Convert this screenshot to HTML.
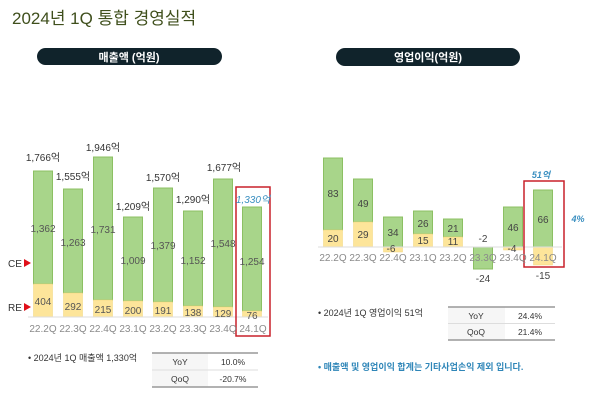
<!DOCTYPE html><html><head><meta charset="utf-8"><style>body{margin:0;background:#fff}svg{display:block}text{font-family:"Liberation Sans","Noto Sans CJK KR",sans-serif}</style></head><body>
<svg width="600" height="400" viewBox="0 0 600 400">
<text x="12" y="24" font-size="17" fill="#3f4f1c">2024년 1Q 통합 경영실적</text>
<rect x="37" y="48" width="185" height="17" rx="8.5" fill="#10232b"/>
<text x="129" y="61" font-size="11" fill="#fff" text-anchor="middle" font-weight="bold">매출액 (억원)</text>
<rect x="336" y="48" width="184" height="18" rx="9" fill="#10232b"/>
<text x="428" y="61" font-size="11" fill="#fff" text-anchor="middle" font-weight="bold">영업이익(억원)</text>
<g stroke="#8cc063" stroke-width="1" fill="#a8d58a">
<rect x="33.5" y="171" width="19" height="113"/><rect x="63.5" y="189" width="19" height="104"/><rect x="93.5" y="157" width="19" height="143"/><rect x="123.5" y="217" width="19" height="84"/><rect x="153.5" y="188" width="19" height="114"/><rect x="183.5" y="211" width="19" height="95"/><rect x="213.5" y="179" width="19" height="128"/><rect x="242.5" y="207" width="19" height="104"/>
<rect x="323.5" y="158" width="19" height="72"/><rect x="353.5" y="179" width="19" height="43"/><rect x="383.5" y="217" width="19" height="30"/><rect x="413.5" y="211" width="19" height="23"/><rect x="443.5" y="219" width="19" height="18"/><rect x="473.5" y="247" width="19" height="22"/><rect x="503.5" y="207" width="19" height="40"/><rect x="533.5" y="190" width="19" height="57"/>
</g>
<g fill="#fde59a" stroke="#f3d57a" stroke-width="0.5">
<rect x="33.5" y="284" width="19" height="33"/><rect x="63.5" y="293" width="19" height="24"/><rect x="93.5" y="300" width="19" height="17"/><rect x="123.5" y="301" width="19" height="16"/><rect x="153.5" y="302" width="19" height="15"/><rect x="183.5" y="306" width="19" height="11"/><rect x="213.5" y="307" width="19" height="10"/><rect x="242.5" y="311" width="19" height="6"/>
<rect x="323.5" y="230" width="19" height="17"/><rect x="353.5" y="222" width="19" height="25"/><rect x="383.5" y="247" width="19" height="5"/><rect x="413.5" y="234" width="19" height="13"/><rect x="443.5" y="237" width="19" height="10"/><rect x="503.5" y="247" width="19" height="3"/><rect x="533.5" y="247" width="19" height="18"/>
</g>
<line x1="28" y1="317" x2="268" y2="317" stroke="#ddd"/>
<line x1="318" y1="247" x2="562" y2="247" stroke="#ddd"/>
<rect x="236" y="187" width="34" height="149" fill="none" stroke="#c8202a" stroke-width="1.5"/>
<rect x="524" y="181" width="40" height="86" fill="none" stroke="#c8202a" stroke-width="1.5"/>
<g font-size="10" fill="#333" text-anchor="middle">
<text x="43" y="161">1,766억</text><text x="73" y="180">1,555억</text><text x="103" y="151">1,946억</text><text x="133" y="210">1,209억</text><text x="163" y="181">1,570억</text><text x="193" y="203">1,290억</text><text x="224" y="171">1,677억</text>
</g>
<text x="253" y="203" font-size="10" fill="#3a8fc0" font-style="italic" text-anchor="middle">1,330억</text>
<g font-size="10" fill="#555" text-anchor="middle">
<text x="43" y="232">1,362</text><text x="73" y="246">1,263</text><text x="103" y="233">1,731</text><text x="133" y="264">1,009</text><text x="163" y="249">1,379</text><text x="193" y="264">1,152</text><text x="223" y="247">1,548</text><text x="252" y="265">1,254</text>
<text x="43" y="305">404</text><text x="73" y="310">292</text><text x="103" y="313">215</text><text x="133" y="314">200</text><text x="163" y="314">191</text><text x="193" y="316">138</text><text x="223" y="317">129</text><text x="252" y="319">76</text>
</g>
<g font-size="10" fill="#8a8a8a" text-anchor="middle">
<text x="43" y="332">22.2Q</text><text x="73" y="332">22.3Q</text><text x="103" y="332">22.4Q</text><text x="133" y="332">23.1Q</text><text x="163" y="332">23.2Q</text><text x="193" y="332">23.3Q</text><text x="223" y="332">23.4Q</text><text x="253" y="332">24.1Q</text>
<text x="333" y="261">22.2Q</text><text x="363" y="261">22.3Q</text><text x="393" y="261">22.4Q</text><text x="423" y="261">23.1Q</text><text x="453" y="261">23.2Q</text><text x="483" y="261">23.3Q</text><text x="513" y="261">23.4Q</text><text x="543" y="261">24.1Q</text>
</g>
<text x="8" y="267" font-size="10" fill="#333">CE</text><polygon points="24,259 31,263 24,267" fill="#e0101a"/>
<text x="8" y="311" font-size="10" fill="#333">RE</text><polygon points="24,303 31,307 24,311" fill="#e0101a"/>
<g font-size="10" fill="#444" text-anchor="middle">
<text x="333" y="197">83</text><text x="333" y="242">20</text><text x="363" y="207">49</text><text x="363" y="238">29</text><text x="393" y="236">34</text><text x="391" y="252">-6</text><text x="423" y="227">26</text><text x="423" y="244">15</text><text x="453" y="232">21</text><text x="453" y="245">11</text><text x="483" y="242">-2</text><text x="483" y="282">-24</text><text x="513" y="231">46</text><text x="512" y="252">-4</text><text x="543" y="223">66</text><text x="543" y="279">-15</text>
</g>
<text x="541" y="178" font-size="9" fill="#3a8fc0" font-style="italic" font-weight="bold" text-anchor="middle">51억</text>
<text x="578" y="222" font-size="9" fill="#3a8fc0" font-style="italic" font-weight="bold" text-anchor="middle">4%</text>
<text x="28" y="361" font-size="9" fill="#333">•  2024년 1Q 매출액 1,330억</text>
<rect x="152" y="353" width="106" height="34" fill="#f6f6f6"/><rect x="208" y="353" width="50" height="34" fill="#fff"/>
<line x1="152" y1="353" x2="258" y2="353" stroke="#999" stroke-width="1.5"/><line x1="152" y1="370" x2="258" y2="370" stroke="#ddd"/><line x1="152" y1="387" x2="258" y2="387" stroke="#999" stroke-width="1.5"/>
<g font-size="8.5" fill="#333" text-anchor="middle"><text x="180" y="365">YoY</text><text x="233" y="365">10.0%</text><text x="180" y="382">QoQ</text><text x="233" y="382">-20.7%</text></g>
<text x="318" y="316" font-size="9" fill="#333">•  2024년 1Q 영업이익 51억</text>
<rect x="448" y="307" width="107" height="33" fill="#f6f6f6"/><rect x="505" y="307" width="50" height="33" fill="#fff"/>
<line x1="448" y1="307" x2="555" y2="307" stroke="#999" stroke-width="1.5"/><line x1="448" y1="323.5" x2="555" y2="323.5" stroke="#ddd"/><line x1="448" y1="340" x2="555" y2="340" stroke="#999" stroke-width="1.5"/>
<g font-size="8.5" fill="#333" text-anchor="middle"><text x="476" y="319">YoY</text><text x="530" y="319">24.4%</text><text x="476" y="335">QoQ</text><text x="530" y="335">21.4%</text></g>
<text x="318" y="370" font-size="9" fill="#2f86b8" font-weight="bold">•  매출액 및 영업이익 합계는 기타사업손익 제외 입니다.</text>
</svg></body></html>
